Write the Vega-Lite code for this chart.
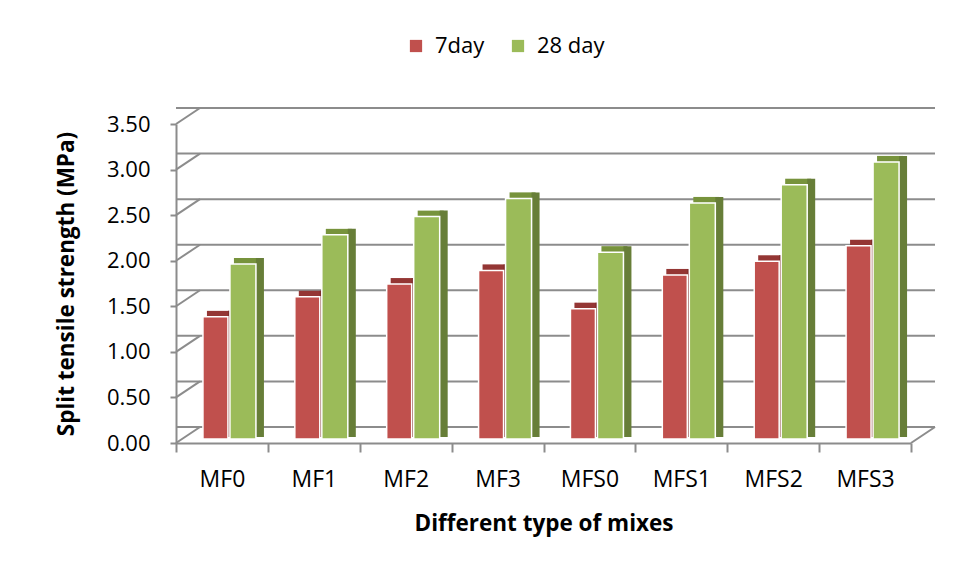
{
  "$schema": "https://vega.github.io/schema/vega-lite/v6.json",
  "width": 735,
  "height": 319,
  "autosize": {"type": "none"},
  "padding": {"left": 176, "top": 124, "right": 63, "bottom": 128},
  "background": "white",
  "config": {
    "view": {"stroke": null},
    "font": "Open Sans",
    "axis": {"labelFont": "Open Sans", "titleFont": "Open Sans", "labelColor": "#000000", "titleColor": "#000000"},
    "legend": {"labelFont": "Open Sans", "labelColor": "#000000"}
  },
  "datasets": {
    "bars": [
      {"mix": "MF0", "age": "7day", "value": 1.34},
      {"mix": "MF0", "age": "28 day", "value": 1.92},
      {"mix": "MF1", "age": "7day", "value": 1.56},
      {"mix": "MF1", "age": "28 day", "value": 2.24},
      {"mix": "MF2", "age": "7day", "value": 1.70},
      {"mix": "MF2", "age": "28 day", "value": 2.44},
      {"mix": "MF3", "age": "7day", "value": 1.85},
      {"mix": "MF3", "age": "28 day", "value": 2.64},
      {"mix": "MFS0", "age": "7day", "value": 1.43},
      {"mix": "MFS0", "age": "28 day", "value": 2.05},
      {"mix": "MFS1", "age": "7day", "value": 1.80},
      {"mix": "MFS1", "age": "28 day", "value": 2.59},
      {"mix": "MFS2", "age": "7day", "value": 1.95},
      {"mix": "MFS2", "age": "28 day", "value": 2.79},
      {"mix": "MFS3", "age": "7day", "value": 2.12},
      {"mix": "MFS3", "age": "28 day", "value": 3.04}
    ],
    "grid": [
      {"v": 0}, {"v": 0.5}, {"v": 1}, {"v": 1.5}, {"v": 2}, {"v": 2.5}, {"v": 3}, {"v": 3.5}
    ]
  },
  "encoding": {
    "x": {
      "field": "mix", "type": "nominal", "sort": null,
      "scale": {"domain": ["MF0", "MF1", "MF2", "MF3", "MFS0", "MFS1", "MFS2", "MFS3"], "paddingInner": 0, "paddingOuter": 0},
      "axis": {
        "title": "Different type of mixes", "titleFontSize": 22.5, "titleFontWeight": "bold", "titlePadding": 21,
        "labelAngle": 0, "labelFontSize": 23, "labelPadding": 16, "labelAlign": "center",
        "domainColor": "#8c8c8c", "domainWidth": 2, "tickColor": "#8c8c8c", "tickWidth": 2, "tickSize": 9, "tickBand": "extent"
      }
    },
    "y": {
      "field": "value", "type": "quantitative",
      "scale": {"domain": [0, 3.5]},
      "axis": {
        "title": "Split tensile strength (MPa)", "titleFontSize": 22.5, "titleFontWeight": "bold", "titlePadding": 28,
        "values": [0, 0.5, 1, 1.5, 2, 2.5, 3, 3.5], "format": ".2f", "grid": false,
        "labelFontSize": 22, "labelPadding": 20,
        "domainColor": "#8c8c8c", "domainWidth": 2, "tickColor": "#8c8c8c", "tickWidth": 2, "tickSize": 6
      }
    }
  },
  "layer": [
    {
      "data": {"name": "grid"},
      "mark": {"type": "rule", "color": "#8c8c8c", "strokeWidth": 2, "xOffset": 24, "yOffset": -16},
      "encoding": {
        "x": null,
        "y": {"field": "v", "type": "quantitative"}
      }
    },
    {
      "data": {"name": "grid"},
      "mark": {"type": "rule", "color": "#8c8c8c", "strokeWidth": 2, "x2Offset": 24, "y2Offset": -16},
      "encoding": {
        "x": {"datum": "MF0", "type": "nominal", "bandPosition": 0},
        "x2": {"datum": "MF0", "bandPosition": 0},
        "y": {"field": "v", "type": "quantitative"},
        "y2": {"field": "v"}
      }
    },
    {
      "data": {"values": [{"v": 0}]},
      "mark": {"type": "rule", "color": "#8c8c8c", "strokeWidth": 2, "x2Offset": 24, "y2Offset": -16},
      "encoding": {
        "x": {"datum": "MFS3", "type": "nominal", "bandPosition": 1},
        "x2": {"datum": "MFS3", "bandPosition": 1},
        "y": {"field": "v", "type": "quantitative"},
        "y2": {"field": "v"}
      }
    },
    {
      "data": {"name": "bars"},
      "transform": [{"filter": "datum.age === '7day'"}],
      "mark": {"type": "tick", "orient": "horizontal", "thickness": 6, "size": 25, "opacity": 1, "color": "#943634", "xOffset": -2.5, "yOffset": -7}
    },
    {
      "data": {"name": "bars"},
      "transform": [{"filter": "datum.age === '7day'"}],
      "mark": {"type": "bar", "width": 8, "color": "#7d2e2c", "xOffset": 10, "yOffset": -10, "y2Offset": -6},
      "encoding": {"y2": {"datum": 0}}
    },
    {
      "data": {"name": "bars"},
      "transform": [{"filter": "datum.age === '7day'"}],
      "mark": {"type": "bar", "width": 25, "stroke": "white", "strokeWidth": 1.5, "xOffset": -6.5, "yOffset": -4, "y2Offset": -4},
      "encoding": {
        "y2": {"datum": 0},
        "color": {
          "field": "age", "type": "nominal",
          "scale": {"domain": ["7day", "28 day"], "range": ["#c0504d", "#9bbb59"]},
          "legend": {
            "title": null, "orient": "none", "direction": "horizontal", "legendX": 229, "legendY": -89,
            "symbolType": "square", "symbolSize": 150, "symbolStrokeWidth": 0, "labelFontSize": 22, "labelOffset": 8, "columnPadding": 22
          }
        }
      }
    },
    {
      "data": {"name": "bars"},
      "transform": [{"filter": "datum.age === '28 day'"}],
      "mark": {"type": "tick", "orient": "horizontal", "thickness": 6, "size": 26, "opacity": 1, "color": "#77933c", "xOffset": 25, "yOffset": -7}
    },
    {
      "data": {"name": "bars"},
      "transform": [{"filter": "datum.age === '28 day'"}],
      "mark": {"type": "bar", "width": 8, "color": "#677e38", "xOffset": 38, "yOffset": -10, "y2Offset": -6},
      "encoding": {"y2": {"datum": 0}}
    },
    {
      "data": {"name": "bars"},
      "transform": [{"filter": "datum.age === '28 day'"}],
      "mark": {"type": "bar", "width": 26, "stroke": "white", "strokeWidth": 1.5, "xOffset": 21, "yOffset": -4, "y2Offset": -4},
      "encoding": {
        "y2": {"datum": 0},
        "color": {"field": "age", "type": "nominal"}
      }
    }
  ]
}
